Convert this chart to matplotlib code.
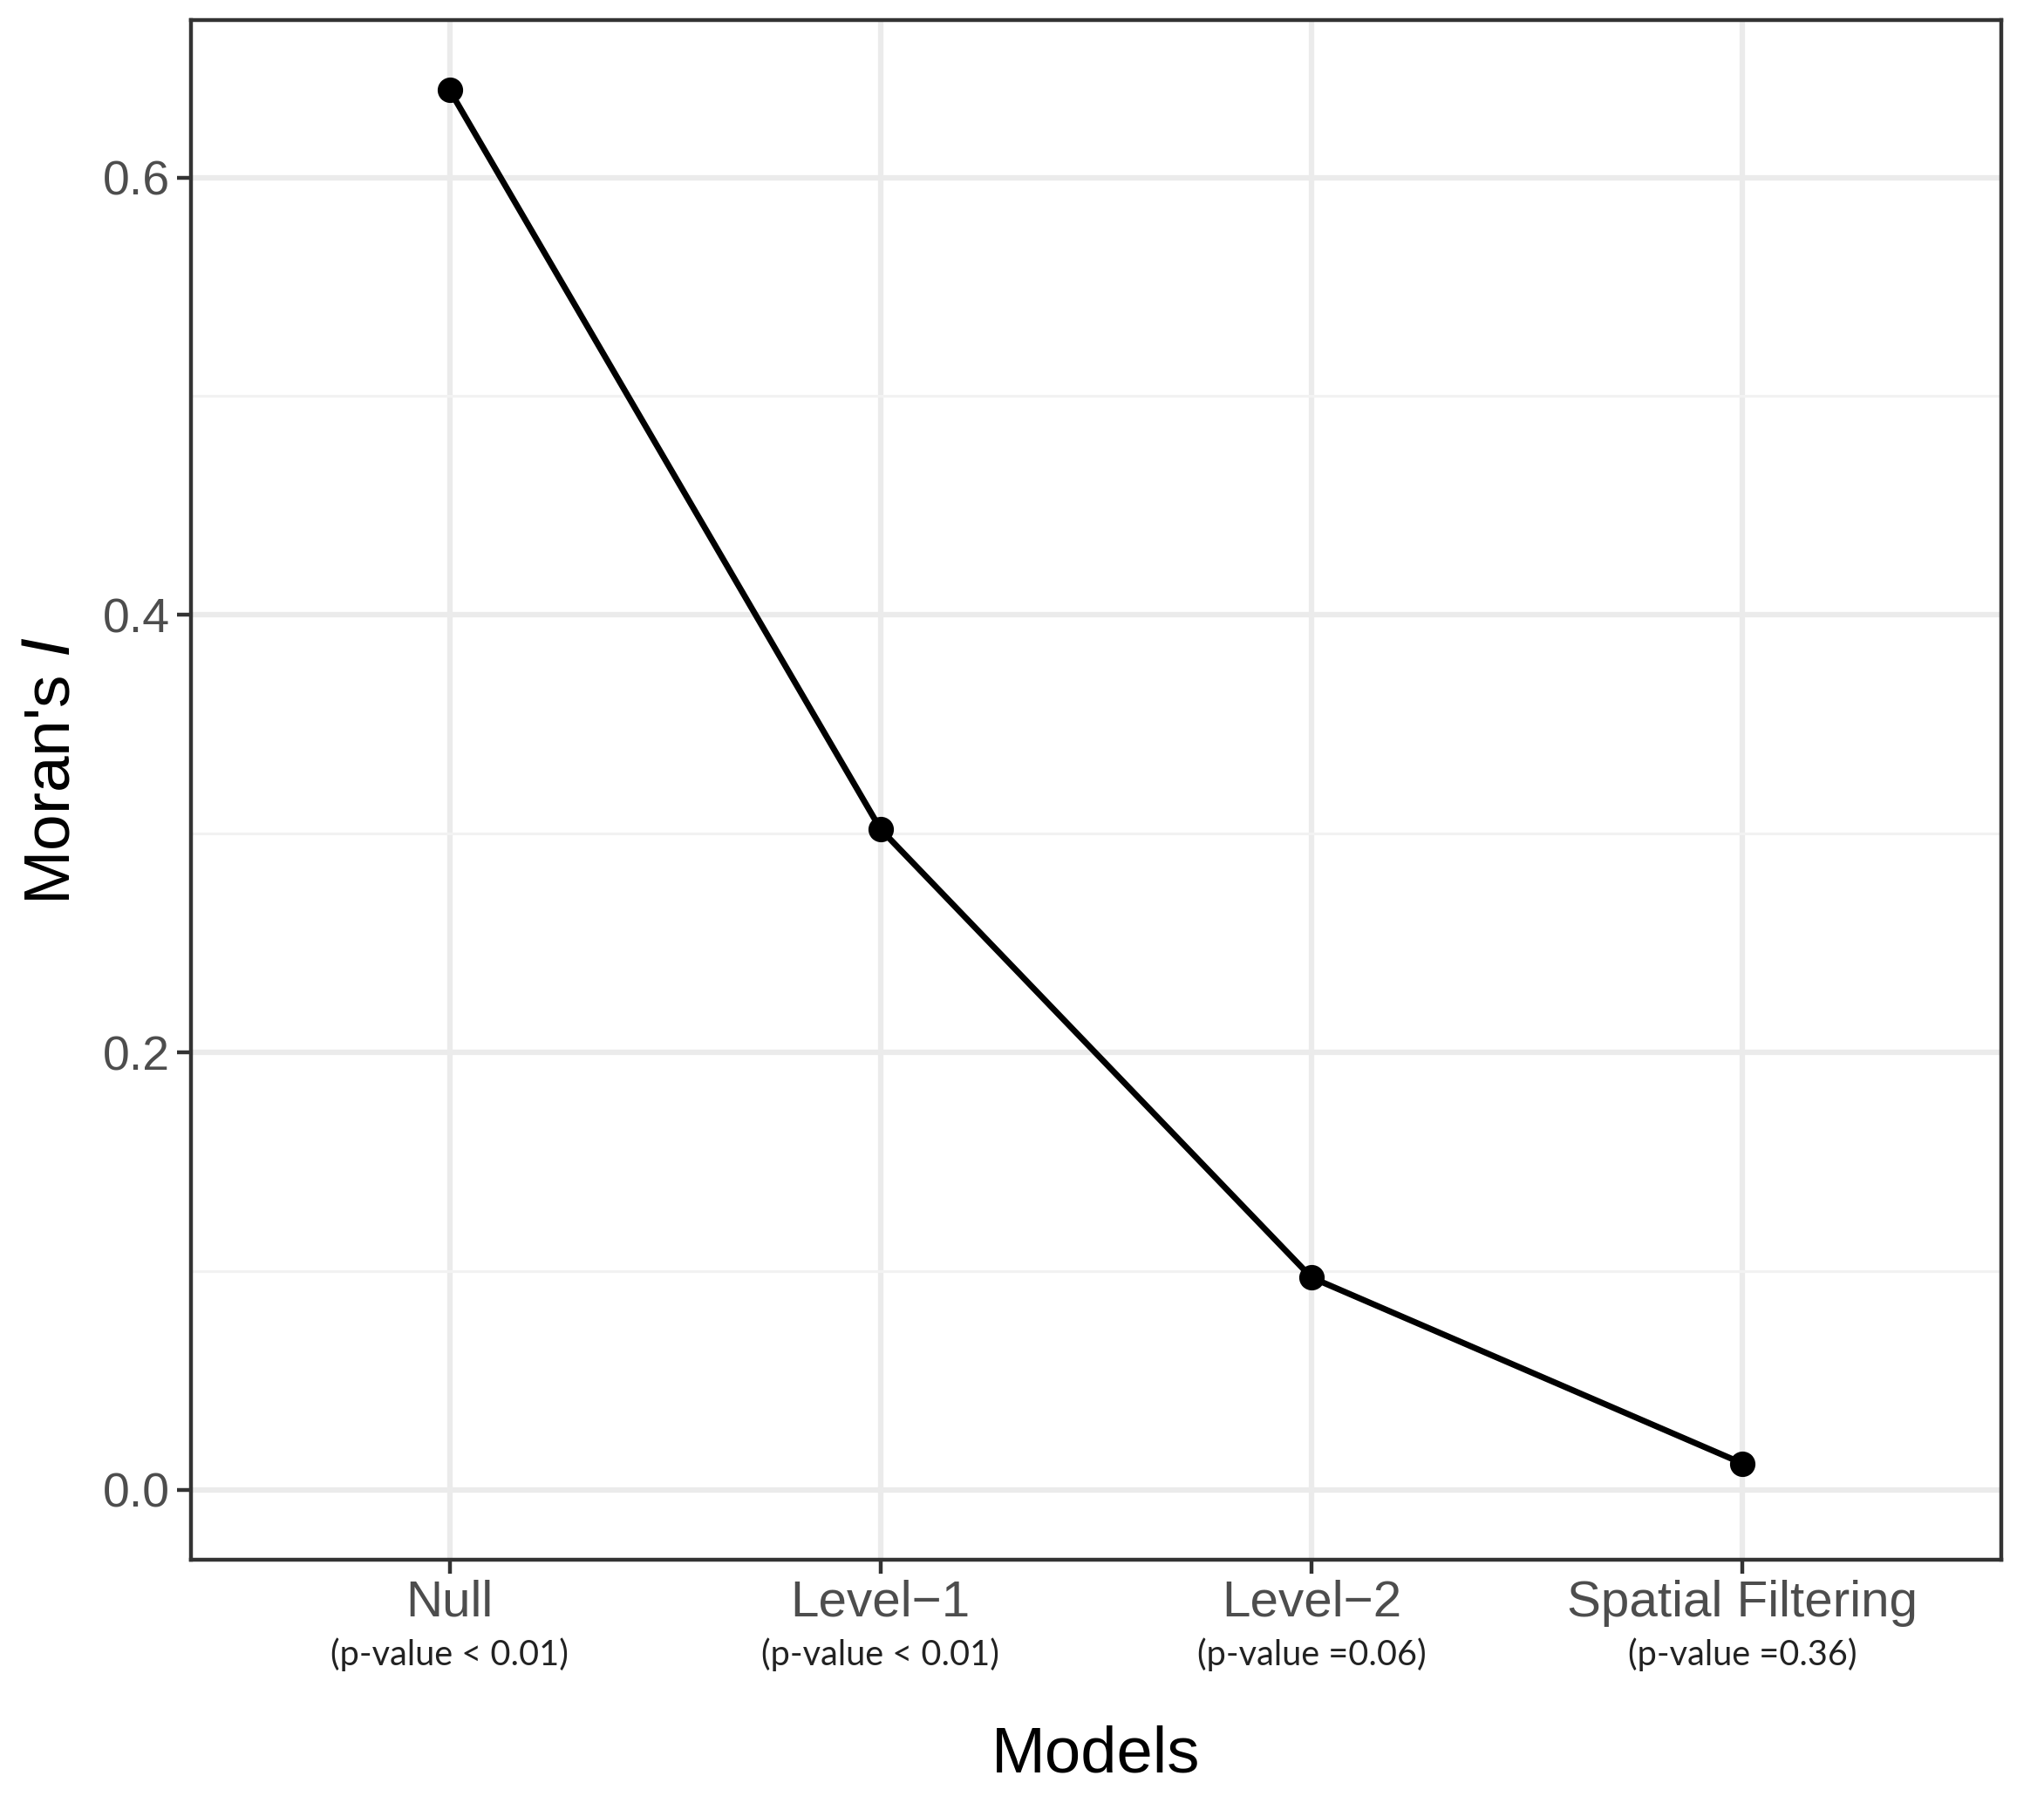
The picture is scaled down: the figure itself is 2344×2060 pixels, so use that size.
import matplotlib
matplotlib.use("Agg")
import matplotlib.pyplot as plt
from matplotlib.ticker import FixedLocator
import matplotlib.transforms as mtransforms

# ---- data ----
models = ["Null", "Level\u22121", "Level\u22122", "Spatial Filtering"]
p_labels = ["(p-value < 0.01)", "(p-value < 0.01)", "(p-value =0.06)", "(p-value =0.36)"]
morans_i = [0.640, 0.302, 0.097, 0.012]
y_ticks = [0.0, 0.2, 0.4, 0.6]
y_tick_labels = ["0.0", "0.2", "0.4", "0.6"]

W, H = 2344, 2060
fig = plt.figure(figsize=(W / 100, H / 100), dpi=100)
ax_left, ax_right, ax_top, ax_bottom = 219, 2295, 23, 1789
ax = fig.add_axes([ax_left / W, 1 - ax_bottom / H, (ax_right - ax_left) / W, (ax_bottom - ax_top) / H])

x = list(range(1, len(models) + 1))
ax.set_xlim(0.4, len(models) + 0.6)
ax.set_ylim(-0.032, 0.672)

# grid
ax.set_axisbelow(True)
ax.yaxis.set_major_locator(FixedLocator(y_ticks))
ax.yaxis.set_minor_locator(FixedLocator([0.1, 0.3, 0.5]))
ax.grid(which="major", color="#EBEBEB", linewidth=4.5)
ax.grid(which="minor", axis="y", color="#F2F2F2", linewidth=2.2)
ax.tick_params(which="minor", length=0)

ax.plot(x, morans_i, color="black", linewidth=5, marker="o", markersize=20, zorder=3)

ax.set_xticks(x)
ax.set_xticklabels(models, fontsize=42, color="#4D4D4D", family=["Liberation Sans", "DejaVu Sans"])
ax.set_yticks(y_ticks)
ax.set_yticklabels(y_tick_labels, fontsize=40, color="#4D4D4D", family=["Liberation Sans", "DejaVu Sans"])
ax.tick_params(which="major", length=11.5, width=3.2, color="#333333")
ax.tick_params(axis="x", pad=5)
ax.tick_params(axis="y", pad=6)

for s in ax.spines.values():
    s.set_color("#333333")
    s.set_linewidth(3.2)

trans = mtransforms.blended_transform_factory(ax.transData, ax.transAxes)
for xi, lab in zip(x, p_labels):
    ax.text(xi, -0.0617, lab, transform=trans, ha="center", va="center",
            fontsize=28.5, color="#222222", family=["Lato", "DejaVu Sans"])

fig.text((ax_left + ax_right) / 2 / W, 1 - 2013 / H, "Models", ha="center", va="center",
         fontsize=53.5, color="black", family=["Liberation Sans", "DejaVu Sans"])
fig.text(60 / W, 1 - 884 / H, "Moran's $\\mathit{I}$", ha="center", va="center", rotation=90,
         fontsize=54, color="black", family=["Liberation Sans", "DejaVu Sans"])

fig.savefig("out.png", dpi=100, facecolor="white")
